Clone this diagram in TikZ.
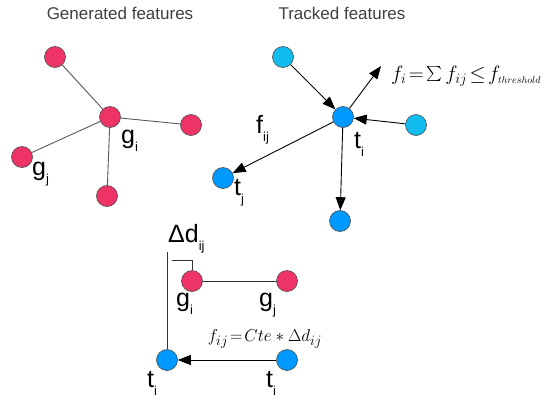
\documentclass[tikz,border=0pt]{standalone}
\usepackage{fontspec}
\setmainfont{Liberation Sans}
\usetikzlibrary{arrows.meta}
\definecolor{gred}{HTML}{EE3366}
\definecolor{tblue}{HTML}{11BBEE}
\definecolor{tcent}{HTML}{0099FF}
\tikzset{
  gnode/.style={circle,draw=black!70,fill=gred,minimum size=21pt,inner sep=0pt,line width=0.6pt},
  tnode/.style={circle,draw=black!70,fill=tblue,minimum size=21pt,inner sep=0pt,line width=0.6pt},
  tcnode/.style={tnode,fill=tcent},
  link/.style={draw=black!65,line width=0.9pt},
  arr/.style={link,-{Triangle[length=13pt,width=10pt]},black},
  lbl/.style={inner sep=0pt,anchor=base west,font=\fontsize{25}{27}\selectfont},
  ttl/.style={inner sep=0pt,text=black!75,font=\fontsize{17}{19}\selectfont},
  frm/.style={inner sep=0pt}
}
\newcommand{\lab}[2]{#1\raisebox{-8pt}{\fontsize{13}{14}\selectfont #2}}
\begin{document}
\begin{tikzpicture}[x=1pt,y=-1pt]
\useasboundingbox (0,0) rectangle (551,402);
\fill[white] (0,0) rectangle (551,402);
% titles
\node[ttl] (t1) at (120,13) {Generated features};
\node[ttl] (t2) at (342,13) {Tracked features};
% generated
\node[gnode] (gi) at (110,117) {};
\node[gnode] (g1) at (55,57) {};
\node[gnode] (g2) at (191,125) {};
\node[gnode] (gj) at (22,157) {};
\node[gnode] (g3) at (107,196) {};
\draw[link] (gi) -- (g1);
\draw[link] (gi) -- (g2);
\draw[link] (gi) -- (gj);
\draw[link] (gi) -- (g3);
\node[lbl] (lgi) at (121,143) {\lab{g}{i}};
\node[lbl] (lgj) at (32,175) {\lab{g}{j}};
% tracked
\node[tcnode] (ti) at (343,117) {};
\node[tnode] (t1n) at (283,57) {};
\node[tnode] (t2n) at (416,125) {};
\node[tcnode] (tj) at (223,178) {};
\node[tcnode] (t3n) at (340,221) {};
\coordinate (up) at (381,66);
\draw[arr] (t1n) -- (ti);
\draw[arr] (t2n) -- (ti);
\draw[arr] (ti) -- (tj);
\draw[arr] (ti) -- (t3n);
\draw[arr] (ti) -- (up);
\node[lbl] (lti) at (354,148) {\lab{t}{i}};
\node[lbl] (ltj) at (234,195) {\lab{t}{j}};
\node[lbl] (lfij) at (256,133) {\lab{f}{ij}};
\node[frm,anchor=west,font=\fontsize{20}{24}\selectfont] (fsum) at (391,76) {$f_{i}\!=\!\raisebox{-2pt}{\scalebox{1.5}{$\sum$}}\, f_{ij}\!\le\! f_{\scriptscriptstyle threshold}$};
% bottom
\node[gnode] (bgi) at (192,281) {};
\node[gnode] (bgj) at (287,281) {};
\node[tcnode] (bti) at (167,360) {};
\node[tcnode] (btj) at (287,360) {};
\draw[link,black!80] (bgi) -- (bgj);
\draw[arr] (btj) -- (bti);
\coordinate (vtop) at (167,252);
\draw[link,black!80] (vtop) -- (bti);
\coordinate (tk1) at (172,260);
\coordinate (tk2) at (192,260);
\draw[link,black!80] (tk1) -- (tk2) -- (bgi);
\node[lbl] (ldd) at (168,242) {Δd\raisebox{-8pt}{\fontsize{13}{14}\selectfont ij}};
\node[lbl] (lbgi) at (176,306) {\lab{g}{i}};
\node[lbl] (lbgj) at (259,306) {\lab{g}{j}};
\node[lbl] (lbti) at (147,387) {\lab{t}{i}};
\node[lbl] (lbtj) at (266,387) {\lab{t}{i}};
\node[frm,font=\fontsize{19}{22}\selectfont] (fcte) at (265,339) {$f_{ij}\!=\!Cte*\Delta d_{ij}$};
\end{tikzpicture}
\end{document}
